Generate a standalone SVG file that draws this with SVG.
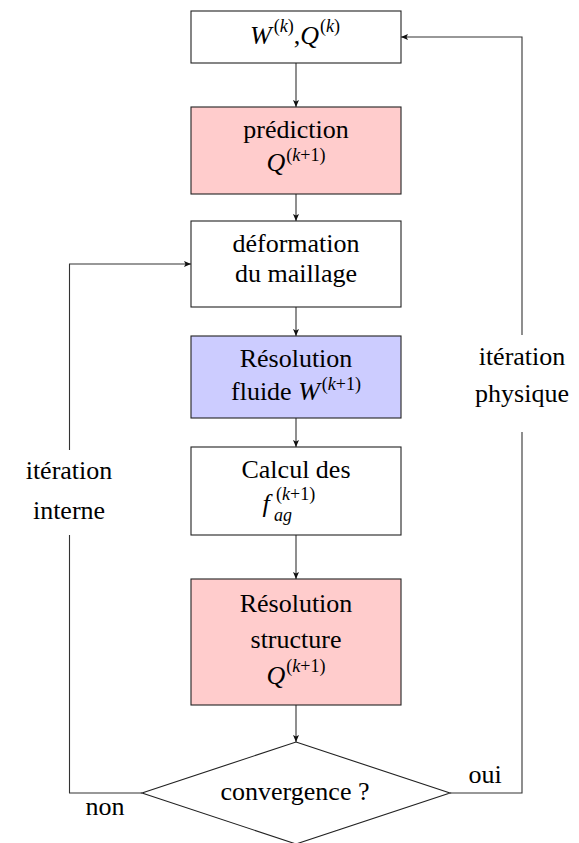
<svg xmlns="http://www.w3.org/2000/svg" width="579" height="843" viewBox="0 0 579 843">
<style>
text{font-family:"Liberation Serif","Times New Roman",serif;font-size:26px;fill:#000;text-anchor:middle}
.i{font-style:italic}
.s{font-size:18px}
.box{stroke:#222;stroke-width:1.1}
.w{fill:#fff}
.r{fill:#ffcccc}
.b{fill:#ccccff}
.c{fill:none;stroke:#333;stroke-width:1.1}
</style>
<defs>
<marker id="ah" markerUnits="userSpaceOnUse" markerWidth="8" markerHeight="6" refX="7" refY="3" orient="auto">
<path d="M0,0 L7,3 L0,6 L1.5,3 z" fill="#111"/>
</marker>
</defs>
<rect width="579" height="843" fill="#fff"/>
<g id="connectors">
<line class="c" x1="296" y1="63" x2="296" y2="107" marker-end="url(#ah)"/>
<line class="c" x1="296" y1="194" x2="296" y2="221" marker-end="url(#ah)"/>
<line class="c" x1="296" y1="307" x2="296" y2="336" marker-end="url(#ah)"/>
<line class="c" x1="296" y1="418" x2="296" y2="447" marker-end="url(#ah)"/>
<line class="c" x1="296" y1="535" x2="296" y2="579" marker-end="url(#ah)"/>
<line class="c" x1="296" y1="705" x2="296" y2="742" marker-end="url(#ah)"/>
<polyline class="c" points="142,793 69.5,793 69.5,535"/>
<polyline class="c" points="69.5,450 69.5,264 191,264" marker-end="url(#ah)"/>
<polyline class="c" points="450,793 522,793 522,432"/>
<polyline class="c" points="522,335 522,37 401,37" marker-end="url(#ah)"/>
</g>
<g id="n1">
<rect class="box w" x="191" y="11" width="210" height="52"/>
<text x="295" y="44"><tspan class="i">W</tspan><tspan class="s" dx="2" dy="-12">(</tspan><tspan class="s i">k</tspan><tspan class="s">)</tspan><tspan dy="12">,</tspan><tspan class="i">Q</tspan><tspan class="s" dx="1" dy="-12">(</tspan><tspan class="s i">k</tspan><tspan class="s">)</tspan></text>
</g>
<g id="n2">
<rect class="box r" x="191" y="107" width="210" height="87"/>
<text x="296" y="138">prédiction</text>
<text x="296" y="171"><tspan class="i">Q</tspan><tspan class="s" dx="1" dy="-10">(</tspan><tspan class="s i">k</tspan><tspan class="s">+1)</tspan></text>
</g>
<g id="n3">
<rect class="box w" x="191" y="221" width="210" height="86"/>
<text x="296" y="252">déformation</text>
<text x="296" y="282">du maillage</text>
</g>
<g id="n4">
<rect class="box b" x="191" y="336" width="210" height="82"/>
<text x="296" y="367">Résolution</text>
<text x="296" y="400">fluide <tspan class="i">W</tspan><tspan class="s" dx="2" dy="-10">(</tspan><tspan class="s i">k</tspan><tspan class="s">+1)</tspan></text>
</g>
<g id="n5">
<rect class="box w" x="191" y="447" width="210" height="88"/>
<text x="296" y="478">Calcul des</text>
<text x="266" y="512" class="i">f</text>
<text x="274" y="521" class="s i" style="text-anchor:start">ag</text>
<text x="276" y="500" class="s" style="text-anchor:start">(<tspan class="i">k</tspan>+1)</text>
</g>
<g id="n6">
<rect class="box r" x="191" y="579" width="210" height="126"/>
<text x="296" y="612">Résolution</text>
<text x="296" y="648">structure</text>
<text x="296" y="684"><tspan class="i">Q</tspan><tspan class="s" dx="1" dy="-12">(</tspan><tspan class="s i">k</tspan><tspan class="s">+1)</tspan></text>
</g>
<g id="n7">
<polygon class="box w" points="296,742 450,793 296,844 142,793"/>
<text x="295" y="800">convergence ?</text>
</g>
<g id="labels">
<text x="69" y="479">itération</text>
<text x="69" y="519">interne</text>
<text x="522" y="365">itération</text>
<text x="522" y="402">physique</text>
<text x="485" y="783">oui</text>
<text x="105" y="815">non</text>
</g>
</svg>
